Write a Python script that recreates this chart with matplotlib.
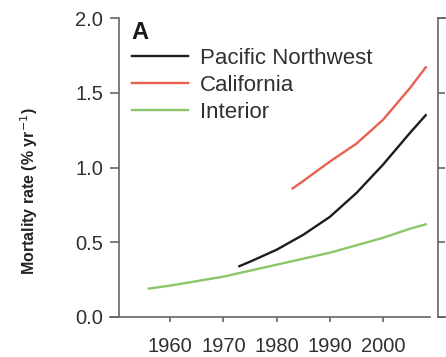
import matplotlib.pyplot as plt

# ---- datos ----
anios_interior = [1956, 1960, 1965, 1970, 1975, 1980, 1985, 1990, 1995, 2000, 2005, 2008]
tasa_interior = [0.19, 0.21, 0.24, 0.27, 0.31, 0.35, 0.39, 0.43, 0.48, 0.53, 0.59, 0.62]

anios_pnw = [1973, 1975, 1980, 1985, 1990, 1995, 2000, 2005, 2008]
tasa_pnw = [0.34, 0.37, 0.45, 0.55, 0.67, 0.83, 1.02, 1.23, 1.35]

anios_cal = [1983, 1985, 1990, 1995, 2000, 2005, 2008]
tasa_cal = [0.86, 0.91, 1.04, 1.16, 1.32, 1.53, 1.67]

xticks = [1960, 1970, 1980, 1990, 2000]
yticks = [0.0, 0.5, 1.0, 1.5, 2.0]

plt.rcParams['font.family'] = ['Liberation Sans', 'DejaVu Sans']

W, H = 446, 357
fig = plt.figure(figsize=(W / 100, H / 100), dpi=100)

# panel A
x0, x1, y0, y1 = 110, 430, 18, 317
ax = fig.add_axes([x0 / W, 1 - y1 / H, (x1 - x0) / W, (y1 - y0) / H])
ax.plot(anios_pnw, tasa_pnw, color='#1c1c1c', lw=1.7, label='Pacific Northwest')
ax.plot(anios_cal, tasa_cal, color='#e9604f', lw=1.7, label='California')
ax.plot(anios_interior, tasa_interior, color='#8cc66a', lw=1.7, label='Interior')

ax.set_xlim(1948.7, 2008.8)
ax.set_ylim(0, 2.0)
ax.set_xticks(xticks)
ax.set_yticks(yticks)
ax.set_yticklabels([f'{v:.1f}' for v in yticks])
for s in ['top', 'right']:
    ax.spines[s].set_visible(False)
ax.spines['left'].set_position(('axes', 9 / (x1 - x0)))
for s in ['left', 'bottom']:
    ax.spines[s].set_color('#666666')
    ax.spines[s].set_linewidth(1.2)
ax.tick_params(color='#666666', width=1.2, labelsize=14.5, labelcolor='#303030')
ax.tick_params(axis='y', direction='out', length=6.5, pad=5)
ax.tick_params(axis='x', direction='out', length=3.5, pad=11)

ax.set_ylabel('Mortality rate (% yr$^{-1}$)', fontsize=11.5, fontweight='bold',
              color='#222222')
ax.yaxis.set_label_coords(-0.219, 0.42)

ax.text(0.068, 0.99, 'A', transform=ax.transAxes, fontsize=17, fontweight='bold',
        va='top', ha='left', color='#1a1a1a')

ax.legend(loc='upper left', bbox_to_anchor=(0.069, 0.90), frameon=False,
          fontsize=16, handlelength=2.5, handletextpad=0.55, labelspacing=0.27,
          borderaxespad=0, borderpad=0, labelcolor='#303030')

# borde del panel B (recortado)
bx = 438
axb = fig.add_axes([bx / W, 1 - y1 / H, 0.5, (y1 - y0) / H])
axb.set_ylim(0, 2.0)
axb.set_yticks(yticks)
axb.set_yticklabels([])
axb.set_xticks([])
for s in ['left', 'bottom', 'top']:
    axb.spines[s].set_color('#666666')
    axb.spines[s].set_linewidth(1.2)
axb.spines['right'].set_visible(False)
axb.tick_params(direction='in', length=5, width=1.2, color='#666666')

fig.savefig('out.png', dpi=100)
